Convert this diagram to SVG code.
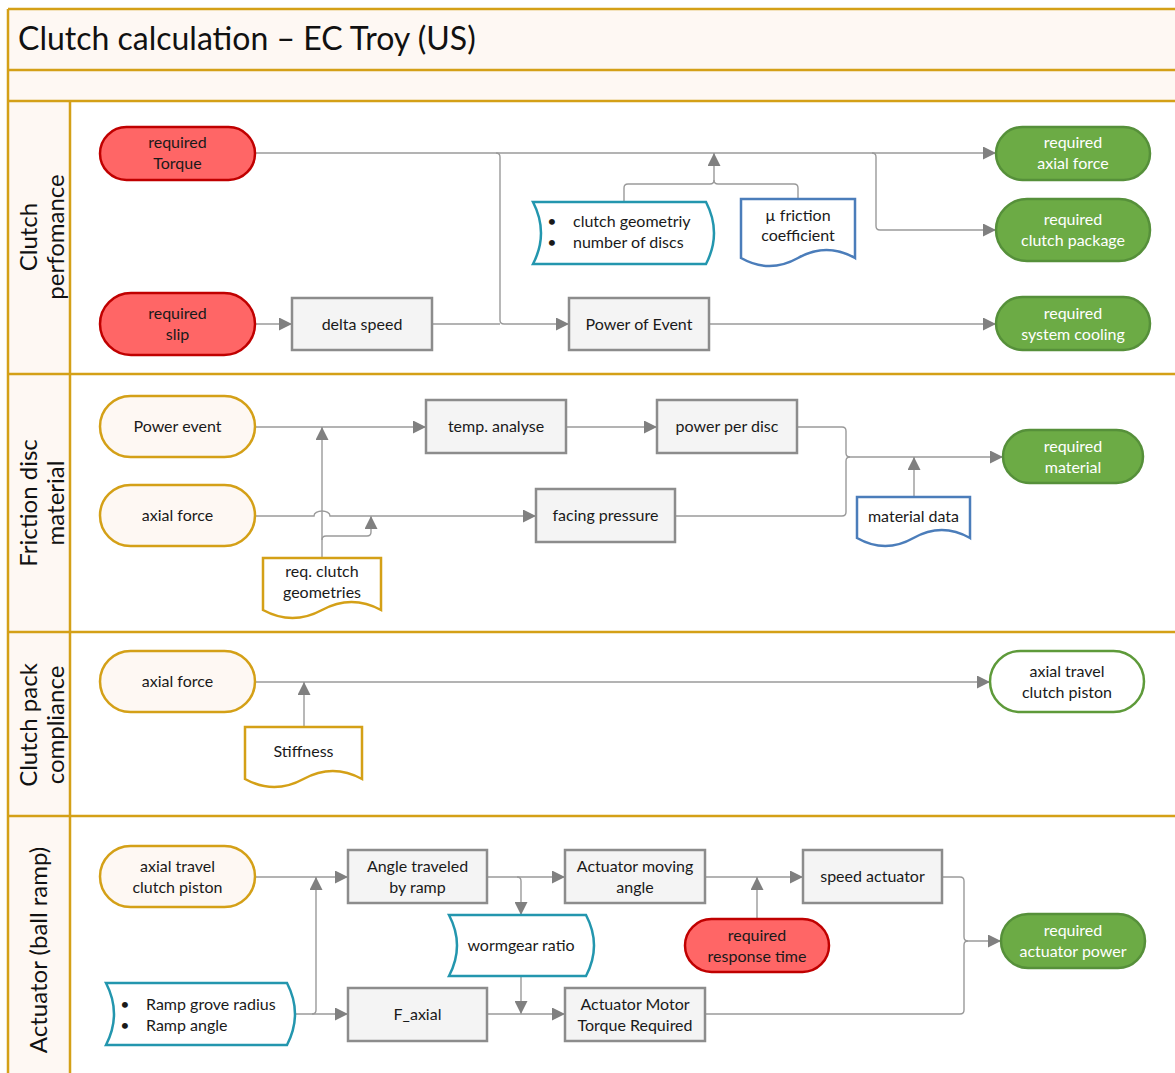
<svg xmlns="http://www.w3.org/2000/svg" width="1175" height="1073" viewBox="0 0 1175 1073">
  <defs>
    <marker id="arrow" markerUnits="userSpaceOnUse" markerWidth="14" markerHeight="13" refX="13" refY="6.5" orient="auto">
      <path d="M0,0 L13,6.5 L0,13 Z" fill="#808080"/>
    </marker>
    <style>
      .frame { fill: none; stroke: #D4A017; stroke-width: 2.5; }
      .t { font-family: Lato, "Open Sans", "Liberation Sans", sans-serif; font-size: 16px; fill: #1a1a1a; text-anchor: middle; }
      .tl { text-anchor: start; }
      .tw { fill: #ffffff; }
      .lane { font-family: Lato, "Open Sans", "Liberation Sans", sans-serif; font-size: 24px; fill: #111; text-anchor: middle; }
      .title { font-family: Lato, "Open Sans", "Liberation Sans", sans-serif; font-size: 32px; fill: #111; }
      .red { fill: #FF6666; stroke: #C00000; stroke-width: 2.5; }
      .green { fill: #6CAB45; stroke: #56903A; stroke-width: 2.5; }
      .gold { fill: #FEF8F3; stroke: #D4A017; stroke-width: 2.5; }
      .outw { fill: #ffffff; stroke: #5E9A3A; stroke-width: 2.5; }
      .proc { fill: #F4F4F4; stroke: #8C8C8C; stroke-width: 2.5; }
      .docgold { fill: #ffffff; stroke: #D4A017; stroke-width: 2.5; }
      .docblue { fill: #ffffff; stroke: #4B7DBA; stroke-width: 2.5; }
      .store { fill: #ffffff; stroke: #2396AE; stroke-width: 2.5; }
      .conn { fill: none; stroke: #9A9A9A; stroke-width: 1.4; }
      .arr { marker-end: url(#arrow); }
    </style>
  </defs>

  <!-- swimlane frame -->
  <g id="frame">
    <rect x="8" y="9" width="1180" height="1080" fill="#FEF8F3"/>
    <rect x="70" y="101" width="1120" height="990" fill="#ffffff"/>
    <path class="frame" d="M8,9 H1180 M8,70 H1180 M8,101 H1180 M8,374 H1180 M8,632 H1180 M8,816 H1180 M8,9 V1080 M70,101 V1080"/>
    <text class="title" x="18" y="50">Clutch calculation – EC Troy (US)</text>
    <text class="lane" transform="rotate(-90 37 237)" x="37" y="237">Clutch</text>
    <text class="lane" transform="rotate(-90 64 237)" x="64" y="237">perfomance</text>
    <text class="lane" transform="rotate(-90 37 503)" x="37" y="503">Friction disc</text>
    <text class="lane" transform="rotate(-90 64 503)" x="64" y="503">material</text>
    <text class="lane" transform="rotate(-90 37 725)" x="37" y="725">Clutch pack</text>
    <text class="lane" transform="rotate(-90 64 725)" x="64" y="725">compliance</text>
    <text class="lane" transform="rotate(-90 47 950)" x="47" y="950">Actuator (ball ramp)</text>
  </g>

  <!-- connectors -->
  <g id="connectors">
    <!-- clutch performance -->
    <path class="conn arr" d="M255,153 H996"/>
    <path class="conn arr" d="M496,153 Q500,153 500,157 V320 Q500,324 504,324 H569"/>
    <path class="conn" d="M432,324 H500"/>
    <path class="conn arr" d="M255,324 H292"/>
    <path class="conn arr" d="M872,153 Q876,153 876,157 V226 Q876,230 880,230 H996"/>
    <path class="conn arr" d="M709,324 H996"/>
    <path class="conn arr" d="M624,202 V188 Q624,184 628,184 H710 Q714,184 714,180 V153"/>
    <path class="conn" d="M798,199 V188 Q798,184 794,184 H718 Q714,184 714,180"/>
    <!-- friction disc material -->
    <path class="conn arr" d="M255,427 H426"/>
    <path class="conn arr" d="M322,558 V427"/>
    <path class="conn arr" d="M322,540 Q322,536 326,536 H367 Q371,536 371,532 V516"/>
    <path class="conn arr" d="M255,516 H314 A8,5 0 0 1 330,516 H536"/>
    <path class="conn arr" d="M566,427 H657"/>
    <path class="conn arr" d="M797,427 H842 Q846,427 846,431 V453 Q846,457 850,457 H1003"/>
    <path class="conn" d="M675,516 H842 Q846,516 846,512 V461 Q846,457 850,457"/>
    <path class="conn arr" d="M914,497 V457"/>
    <!-- clutch pack compliance -->
    <path class="conn arr" d="M255,682 H990"/>
    <path class="conn arr" d="M304,727 V682"/>
    <!-- actuator -->
    <path class="conn arr" d="M255,877 H348"/>
    <path class="conn arr" d="M295,1014 H348"/>
    <path class="conn arr" d="M312,1014 Q316,1014 316,1010 V877"/>
    <path class="conn arr" d="M487,877 H565"/>
    <path class="conn arr" d="M517,877 Q521,877 521,881 V915"/>
    <path class="conn arr" d="M521,976 V1014"/>
    <path class="conn arr" d="M487,1014 H565"/>
    <path class="conn arr" d="M705,877 H803"/>
    <path class="conn arr" d="M757,919 V877"/>
    <path class="conn arr" d="M942,877 H960 Q964,877 964,881 V937 Q964,941 968,941 H1001"/>
    <path class="conn" d="M705,1014 H960 Q964,1014 964,1010 V945 Q964,941 968,941"/>
  </g>

  <!-- lane 1: clutch performance -->
  <g id="req-torque">
    <rect class="red" x="100" y="127" width="155" height="53" rx="26.5"/>
    <text class="t" x="177.5" y="148">required</text>
    <text class="t" x="177.5" y="169">Torque</text>
  </g>
  <g id="req-slip">
    <rect class="red" x="100" y="293" width="155" height="62" rx="31"/>
    <text class="t" x="177.5" y="319">required</text>
    <text class="t" x="177.5" y="340">slip</text>
  </g>
  <g id="delta-speed">
    <rect class="proc" x="292" y="298" width="140" height="52"/>
    <text class="t" x="362" y="330">delta speed</text>
  </g>
  <g id="power-of-event">
    <rect class="proc" x="569" y="298" width="140" height="52"/>
    <text class="t" x="639" y="330">Power of Event</text>
  </g>
  <g id="clutch-geometry">
    <path class="store" d="M533,202 H706 Q722,233 706,264 H533 Q549,233 533,202 Z"/>
    <text class="t" x="552" y="227">•</text>
    <text class="t tl" x="573" y="227">clutch geometriy</text>
    <text class="t" x="552" y="248">•</text>
    <text class="t tl" x="573" y="248">number of discs</text>
  </g>
  <g id="friction-coefficient">
    <path class="docblue" d="M741,199 H855 V258 Q826.5,242 798,258 T741,258 Z"/>
    <text class="t" x="798" y="221">µ friction</text>
    <text class="t" x="798" y="241">coefficient</text>
  </g>
  <g id="req-axial-force">
    <rect class="green" x="996" y="127" width="154" height="53" rx="26.5"/>
    <text class="t tw" x="1073" y="148">required</text>
    <text class="t tw" x="1073" y="169">axial force</text>
  </g>
  <g id="req-clutch-package">
    <rect class="green" x="996" y="199" width="154" height="62" rx="31"/>
    <text class="t tw" x="1073" y="225">required</text>
    <text class="t tw" x="1073" y="246">clutch package</text>
  </g>
  <g id="req-system-cooling">
    <rect class="green" x="996" y="297" width="154" height="53" rx="26.5"/>
    <text class="t tw" x="1073" y="319">required</text>
    <text class="t tw" x="1073" y="340">system cooling</text>
  </g>

  <!-- lane 2: friction disc material -->
  <g id="power-event">
    <rect class="gold" x="100" y="396" width="155" height="61" rx="30.5"/>
    <text class="t" x="177.5" y="432">Power event</text>
  </g>
  <g id="axial-force-2">
    <rect class="gold" x="100" y="485" width="155" height="61" rx="30.5"/>
    <text class="t" x="177.5" y="521">axial force</text>
  </g>
  <g id="req-clutch-geometries">
    <path class="docgold" d="M263,558 H381 V610 Q351.5,594 322,610 T263,610 Z"/>
    <text class="t" x="322" y="577">req. clutch</text>
    <text class="t" x="322" y="598">geometries</text>
  </g>
  <g id="temp-analyse">
    <rect class="proc" x="426" y="400" width="140" height="53"/>
    <text class="t" x="496" y="432">temp. analyse</text>
  </g>
  <g id="power-per-disc">
    <rect class="proc" x="657" y="400" width="140" height="53"/>
    <text class="t" x="727" y="432">power per disc</text>
  </g>
  <g id="facing-pressure">
    <rect class="proc" x="536" y="489" width="139" height="53"/>
    <text class="t" x="605.5" y="521">facing pressure</text>
  </g>
  <g id="material-data">
    <path class="docblue" d="M857,497 H970 V538 Q941.75,522 913.5,538 T857,538 Z"/>
    <text class="t" x="913.5" y="522">material data</text>
  </g>
  <g id="req-material">
    <rect class="green" x="1003" y="430" width="140" height="53" rx="26.5"/>
    <text class="t tw" x="1073" y="452">required</text>
    <text class="t tw" x="1073" y="473">material</text>
  </g>

  <!-- lane 3: clutch pack compliance -->
  <g id="axial-force-3">
    <rect class="gold" x="100" y="651" width="155" height="61" rx="30.5"/>
    <text class="t" x="177.5" y="687">axial force</text>
  </g>
  <g id="stiffness">
    <path class="docgold" d="M245,727 H362 V779 Q332.75,763 303.5,779 T245,779 Z"/>
    <text class="t" x="303.5" y="757">Stiffness</text>
  </g>
  <g id="axial-travel-out">
    <rect class="outw" x="990" y="651" width="154" height="61" rx="30.5"/>
    <text class="t" x="1067" y="677">axial travel</text>
    <text class="t" x="1067" y="698">clutch piston</text>
  </g>

  <!-- lane 4: actuator (ball ramp) -->
  <g id="axial-travel-in">
    <rect class="gold" x="100" y="846" width="155" height="61" rx="30.5"/>
    <text class="t" x="177.5" y="872">axial travel</text>
    <text class="t" x="177.5" y="893">clutch piston</text>
  </g>
  <g id="ramp-data">
    <path class="store" d="M106,983 H287 Q303,1014 287,1045 H106 Q122,1014 106,983 Z"/>
    <text class="t" x="125" y="1010">•</text>
    <text class="t tl" x="146" y="1010">Ramp grove radius</text>
    <text class="t" x="125" y="1031">•</text>
    <text class="t tl" x="146" y="1031">Ramp angle</text>
  </g>
  <g id="angle-traveled">
    <rect class="proc" x="348" y="850" width="139" height="53"/>
    <text class="t" x="417.5" y="872">Angle traveled</text>
    <text class="t" x="417.5" y="893">by ramp</text>
  </g>
  <g id="f-axial">
    <rect class="proc" x="348" y="988" width="139" height="53"/>
    <text class="t" x="417.5" y="1020">F_axial</text>
  </g>
  <g id="wormgear-ratio">
    <path class="store" d="M449,915 H586 Q602,945.5 586,976 H449 Q465,945.5 449,915 Z"/>
    <text class="t" x="521" y="951">wormgear ratio</text>
  </g>
  <g id="actuator-moving-angle">
    <rect class="proc" x="565" y="850" width="140" height="53"/>
    <text class="t" x="635" y="872">Actuator moving</text>
    <text class="t" x="635" y="893">angle</text>
  </g>
  <g id="actuator-motor-torque">
    <rect class="proc" x="565" y="988" width="140" height="53"/>
    <text class="t" x="635" y="1010">Actuator Motor</text>
    <text class="t" x="635" y="1031">Torque Required</text>
  </g>
  <g id="req-response-time">
    <rect class="red" x="685" y="919" width="144" height="53" rx="26.5"/>
    <text class="t" x="757" y="941">required</text>
    <text class="t" x="757" y="962">response time</text>
  </g>
  <g id="speed-actuator">
    <rect class="proc" x="803" y="850" width="139" height="53"/>
    <text class="t" x="872.5" y="882">speed actuator</text>
  </g>
  <g id="req-actuator-power">
    <rect class="green" x="1001" y="914" width="144" height="54" rx="27"/>
    <text class="t tw" x="1073" y="936">required</text>
    <text class="t tw" x="1073" y="957">actuator power</text>
  </g>
</svg>
